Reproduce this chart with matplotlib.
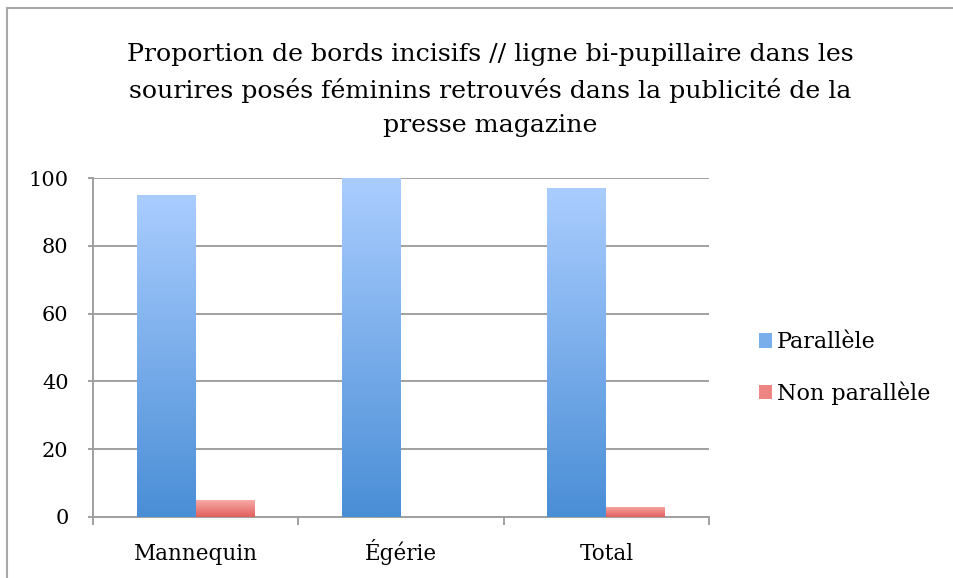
import numpy as np
import matplotlib
matplotlib.use("Agg")
import matplotlib.pyplot as plt
from matplotlib.lines import Line2D
from matplotlib.colors import LinearSegmentedColormap
from matplotlib.patches import Patch

categories = ["Mannequin", "Égérie", "Total"]
series = ["Parallèle", "Non parallèle"]
parallele = [95, 100, 97]
non_parallele = [5, 0, 3]
yticks = [0, 20, 40, 60, 80, 100]
titre = ("Proportion de bords incisifs // ligne bi-pupillaire dans les\n"
         "sourires posés féminins retrouvés dans la publicité de la\n"
         "presse magazine")

plt.rcParams["font.family"] = ["DejaVu Serif"]

W, H = 954, 578
fig = plt.figure(figsize=(W / 100, H / 100), dpi=100)
ax = fig.add_axes([93 / W, 1 - 517 / H, (709 - 93) / W, (517 - 178) / H])

# dégradés façon Excel
bleu = LinearSegmentedColormap.from_list("bleu", ["#4A8ED6", "#AACDFF"])
rouge = LinearSegmentedColormap.from_list("rouge", ["#E0605C", "#F9AAA8"])
grad = np.linspace(0, 1, 256).reshape(-1, 1)

x = np.arange(len(categories))
w = 0.287
bars_b = ax.bar(x - w / 2, parallele, w, color="none", edgecolor="none", zorder=3)
bars_r = ax.bar(x + w / 2, non_parallele, w, color="none", edgecolor="none", zorder=3)

for bars, cmap in [(bars_b, bleu), (bars_r, rouge)]:
    for b in bars:
        h = b.get_height()
        if h <= 0:
            continue
        x0 = b.get_x()
        im = ax.imshow(grad, cmap=cmap, aspect="auto", origin="lower",
                       extent=[x0, x0 + b.get_width(), 0, h], zorder=3)
        im.set_clip_path(b)

ax.set_xlim(-0.5, len(categories) - 0.5)
ax.set_ylim(0, 100)
ax.set_yticks(yticks)
ax.set_yticklabels([str(t) for t in yticks], fontsize=15)
ax.set_xticks(np.arange(len(categories) + 1) - 0.5)
ax.set_xticklabels([])
ax.set_xticks(x, minor=True)
ax.set_xticklabels(categories, minor=True, fontsize=15.5, va="baseline")
ax.tick_params(axis="x", which="minor", length=0, pad=31)
ax.tick_params(axis="x", which="major", length=6, color="#A0A0A0", width=1.4)
ax.tick_params(axis="y", length=3.6, color="#A0A0A0", width=1.4, pad=14)

ax.grid(axis="y", color="#A0A0A0", linewidth=1.4, zorder=0)
ax.set_axisbelow(True)
for s in ["top", "right"]:
    ax.spines[s].set_visible(False)
for s in ["left", "bottom"]:
    ax.spines[s].set_color("#A0A0A0")
    ax.spines[s].set_linewidth(1.4)

fig.text(490 / W, 1 - 90 / H, titre, ha="center", va="center", fontsize=18.2,
         linespacing=1.6)

handles = [Patch(facecolor="#7AAEEB", edgecolor="none"),
           Patch(facecolor="#EE8583", edgecolor="none")]
fig.legend(handles, series, loc="center left", bbox_to_anchor=(739 / W, 1 - 368 / H),
           frameon=False, fontsize=16, handlelength=0.6, handleheight=0.6,
           handletextpad=0.2, labelspacing=1.25)

# cadre du graphique
fig.add_artist(Line2D([7 / W, 7 / W], [0, 1 - 8 / H], color="#A8A8A8", linewidth=1.5))
fig.add_artist(Line2D([7 / W, 1], [1 - 8 / H, 1 - 8 / H], color="#A8A8A8", linewidth=1.5))

fig.savefig("out.png", dpi=100)
